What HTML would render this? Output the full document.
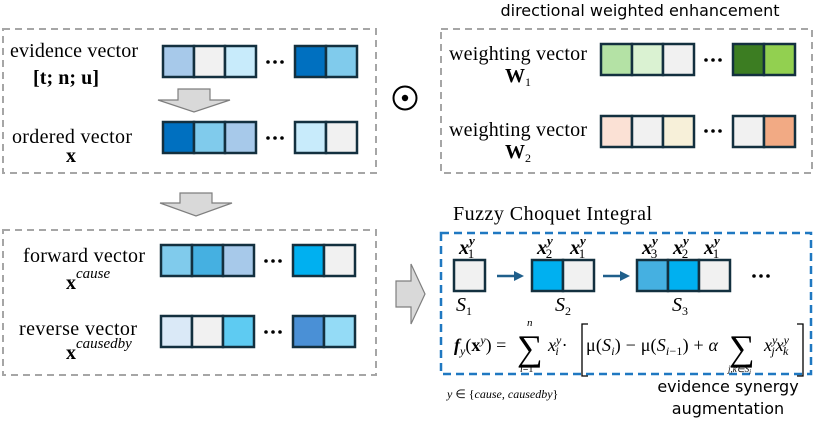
<!DOCTYPE html>
<html><head><style>body{margin:0;background:#fff}svg{display:block}</style></head><body>
<svg width="815" height="421" viewBox="0 0 815 421" xmlns="http://www.w3.org/2000/svg" font-family="Liberation Serif, serif">
<g fill="none" stroke="#a6a6a6" stroke-width="2" stroke-dasharray="7,5">
<rect x="3" y="29" width="373" height="144"/>
<rect x="441" y="29" width="371" height="144"/>
<rect x="3" y="230" width="373" height="145"/>
</g>
<rect x="441" y="233" width="370" height="141" fill="none" stroke="#1f78c1" stroke-width="2.5" stroke-dasharray="8,5"/>
<g stroke="#13303f" stroke-width="2.5">
<rect x="163" y="46" width="31" height="31" fill="#a7c9ea"/><rect x="194" y="46" width="31" height="31" fill="#f1f1f1"/><rect x="225" y="46" width="31" height="31" fill="#c8ebfb"/>
<rect x="295" y="46" width="31" height="31" fill="#0070c0"/><rect x="326" y="46" width="31" height="31" fill="#80cbec"/>
<rect x="163" y="122" width="31" height="31" fill="#0070c0"/><rect x="194" y="122" width="31" height="31" fill="#80cbec"/><rect x="225" y="122" width="31" height="31" fill="#a7c9ea"/>
<rect x="295" y="122" width="31" height="31" fill="#c8ebfb"/><rect x="326" y="122" width="31" height="31" fill="#f1f1f1"/>
<rect x="601" y="44" width="31" height="31" fill="#b4e2a5"/><rect x="632" y="44" width="31" height="31" fill="#daf2d2"/><rect x="663" y="44" width="31" height="31" fill="#f1f1f1"/>
<rect x="733" y="44" width="31" height="31" fill="#3c7d22"/><rect x="764" y="44" width="31" height="31" fill="#92d050"/>
<rect x="601" y="116" width="31" height="31" fill="#fbe1d5"/><rect x="632" y="116" width="31" height="31" fill="#f1f1f1"/><rect x="663" y="116" width="31" height="31" fill="#f7f0d9"/>
<rect x="733" y="116" width="31" height="31" fill="#f1f1f1"/><rect x="764" y="116" width="31" height="31" fill="#f2aa84"/>
<rect x="161" y="245" width="31" height="31" fill="#80cbec"/><rect x="192" y="245" width="31" height="31" fill="#45b0e1"/><rect x="223" y="245" width="31" height="31" fill="#a7c9ea"/>
<rect x="293" y="245" width="31" height="31" fill="#00b0f0"/><rect x="324" y="245" width="31" height="31" fill="#f1f1f1"/>
<rect x="161" y="316" width="31" height="31" fill="#dae9f7"/><rect x="192" y="316" width="31" height="31" fill="#f1f1f1"/><rect x="223" y="316" width="31" height="31" fill="#5ecbf2"/>
<rect x="293" y="316" width="31" height="31" fill="#4a90d6"/><rect x="324" y="316" width="31" height="31" fill="#94dbf6"/>
<rect x="454" y="260" width="31" height="31" fill="#f1f1f1"/>
<rect x="532" y="260" width="31" height="31" fill="#00b0f0"/><rect x="563" y="260" width="31" height="31" fill="#f1f1f1"/>
<rect x="637" y="260" width="31" height="31" fill="#45b0e1"/><rect x="668" y="260" width="31" height="31" fill="#00b0f0"/><rect x="699" y="260" width="31" height="31" fill="#f1f1f1"/>
</g>
<g fill="#000">
<circle cx="268" cy="62" r="1.8"/><circle cx="275" cy="62" r="1.8"/><circle cx="282" cy="62" r="1.8"/>
<circle cx="268" cy="138" r="1.8"/><circle cx="275" cy="138" r="1.8"/><circle cx="282" cy="138" r="1.8"/>
<circle cx="706" cy="60" r="1.8"/><circle cx="713" cy="60" r="1.8"/><circle cx="720" cy="60" r="1.8"/>
<circle cx="706" cy="131" r="1.8"/><circle cx="713" cy="131" r="1.8"/><circle cx="720" cy="131" r="1.8"/>
<circle cx="266" cy="261" r="1.8"/><circle cx="273" cy="261" r="1.8"/><circle cx="280" cy="261" r="1.8"/>
<circle cx="266" cy="332" r="1.8"/><circle cx="273" cy="332" r="1.8"/><circle cx="280" cy="332" r="1.8"/>
<circle cx="754" cy="276" r="1.8"/><circle cx="761" cy="276" r="1.8"/><circle cx="768" cy="276" r="1.8"/>
</g>
<g fill="#d9d9d9" stroke="#7f7f7f" stroke-width="1.2">
<polygon points="178,89 210,89 210,100 230,100 194,112 158,100 178,100"/>
<polygon points="180,193 212,193 212,203 232,203 196,216 160,203 180,203"/>
<polygon points="396,281 411,281 411,264 425,294 411,324 411,307 396,307"/>
</g>
<circle cx="405" cy="98" r="11.5" fill="none" stroke="#000" stroke-width="2"/><circle cx="405" cy="98" r="3.2" fill="#000"/>
<g stroke="#1f5f8b" stroke-width="2.5" fill="#1f5f8b">
<line x1="497" y1="276" x2="515" y2="276"/><polygon points="514,271 524,276 514,281" stroke="none"/>
<line x1="603" y1="276" x2="621" y2="276"/><polygon points="620,271 630,276 620,281" stroke="none"/>
</g>
<g font-size="20" fill="#000">
<text x="10" y="57" textLength="128">evidence vector</text>
<text x="33" y="84" font-weight="bold" textLength="66">[t; n; u]</text>
<text x="12" y="143" textLength="120">ordered vector</text>
<text x="66" y="162" font-weight="bold">x</text>
<text x="449" y="60" textLength="138">weighting vector</text>
<text x="505" y="82" font-weight="bold">W<tspan font-size="12" font-weight="normal" dy="4">1</tspan></text>
<text x="449" y="136" textLength="138">weighting vector</text>
<text x="505" y="158" font-weight="bold">W<tspan font-size="12" font-weight="normal" dy="4">2</tspan></text>
<text x="23" y="262" textLength="122">forward vector</text>
<text x="66" y="289" font-weight="bold">x<tspan font-size="15" font-weight="normal" font-style="italic" dy="-11">cause</tspan></text>
<text x="19" y="335" textLength="118">reverse vector</text>
<text x="66" y="359" font-weight="bold">x<tspan font-size="15" font-weight="normal" font-style="italic" dy="-11">causedby</tspan></text>
<text x="453" y="220" textLength="199">Fuzzy Choquet Integral</text>
</g>
<g font-size="20" font-style="italic" font-weight="bold" fill="#000">
<text x="459" y="254">x<tspan font-size="13" dy="-9">y</tspan><tspan font-size="13" font-weight="normal" font-style="normal" dx="-7" dy="13">1</tspan></text>
<text x="537" y="254">x<tspan font-size="13" dy="-9">y</tspan><tspan font-size="13" font-weight="normal" font-style="normal" dx="-7" dy="13">2</tspan></text>
<text x="570" y="254">x<tspan font-size="13" dy="-9">y</tspan><tspan font-size="13" font-weight="normal" font-style="normal" dx="-7" dy="13">1</tspan></text>
<text x="642" y="254">x<tspan font-size="13" dy="-9">y</tspan><tspan font-size="13" font-weight="normal" font-style="normal" dx="-7" dy="13">3</tspan></text>
<text x="673" y="254">x<tspan font-size="13" dy="-9">y</tspan><tspan font-size="13" font-weight="normal" font-style="normal" dx="-7" dy="13">2</tspan></text>
<text x="704" y="254">x<tspan font-size="13" dy="-9">y</tspan><tspan font-size="13" font-weight="normal" font-style="normal" dx="-7" dy="13">1</tspan></text>
</g>
<g font-size="20" font-style="italic" fill="#000">
<text x="456" y="311">S<tspan font-size="12" font-style="normal" dy="4">1</tspan></text>
<text x="555" y="311">S<tspan font-size="12" font-style="normal" dy="4">2</tspan></text>
<text x="672" y="311">S<tspan font-size="12" font-style="normal" dy="4">3</tspan></text>
</g>
<g fill="#000" font-size="18">
<text x="454" y="351"><tspan font-style="italic" font-weight="bold">f</tspan><tspan font-size="12" font-style="italic" dy="4">y</tspan><tspan dy="-4">(</tspan><tspan font-weight="bold">x</tspan><tspan font-size="12" font-style="italic" dy="-7">y</tspan><tspan dy="7">) =</tspan></text>
<text x="517" y="360" font-size="36">∑</text>
<text x="527" y="326" font-size="11" font-style="italic">n</text>
<text x="520" y="372" font-size="10"><tspan font-style="italic">i</tspan>=1</text>
<text x="548" y="351" font-style="italic">x<tspan font-size="12" dy="-7">y</tspan><tspan font-size="12" dx="-6" dy="11">i</tspan><tspan font-style="normal" dy="-4" dx="3">·</tspan></text>
<path d="M588,324 H582 V376 H588 M797,324 H803 V376 H797" fill="none" stroke="#000" stroke-width="1.3"/>
<text x="586" y="351" textLength="132">μ(<tspan font-style="italic">S</tspan><tspan font-size="12" font-style="italic" dy="4">i</tspan><tspan dy="-4">) − μ(</tspan><tspan font-style="italic">S</tspan><tspan font-size="12" dy="4"><tspan font-style="italic">i</tspan>−1</tspan><tspan dy="-4">) + </tspan><tspan font-style="italic">α</tspan></text>
<text x="729" y="360" font-size="36">∑</text>
<text x="728" y="372" font-size="9" font-style="italic">j,k∈S<tspan font-size="7" dy="2">i</tspan></text>
<text x="764" y="351" font-style="italic">x<tspan font-size="12" dy="-7">y</tspan><tspan font-size="12" dx="-6" dy="11">j</tspan><tspan dy="-4" dx="1">x</tspan><tspan font-size="12" dy="-7">y</tspan><tspan font-size="12" dx="-6" dy="11">k</tspan></text>
<text x="447" y="398" font-size="12" font-style="italic">y <tspan font-style="normal">∈ {</tspan>cause, causedby<tspan font-style="normal">}</tspan></text>
</g>
<g font-family="DejaVu Sans, Liberation Sans, sans-serif" font-size="16" fill="#000" text-anchor="middle">
<text x="640" y="16">directional weighted enhancement</text>
<text x="728" y="392">evidence synergy</text>
<text x="728" y="414">augmentation</text>
</g>
</svg>
</body></html>
